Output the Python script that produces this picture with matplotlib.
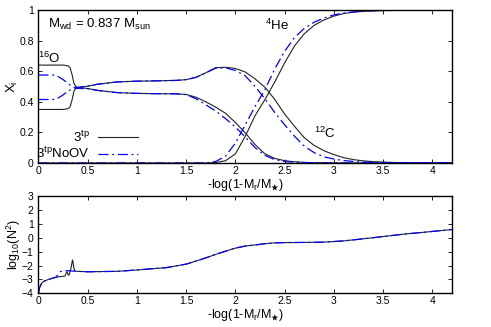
"""
Chemical profiles X_i and Brunt-Vaisala log10(N^2) vs -log(1-Mr/M*),
two models (3tp with overshoot, 3tp NoOV).
"""
import matplotlib
matplotlib.use("Agg")
import matplotlib.pyplot as plt

plt.rcParams.update({
    "font.family": "Liberation Sans",
    "mathtext.fontset": "custom",
    "mathtext.rm": "Liberation Sans",
    "mathtext.it": "Liberation Sans:italic",
    "mathtext.bf": "Liberation Sans:bold",
    "mathtext.default": "regular",
    "mathtext.fallback": "stixsans",
    "xtick.direction": "in",
    "ytick.direction": "in",
    "xtick.top": True,
    "ytick.right": True,
})

# ---- top panel: abundances ----
q = [0.0, 0.1, 0.15, 0.2, 0.25, 0.3, 0.32, 0.34, 0.36, 0.38, 0.4, 0.5, 0.6, 0.8,
     1.0, 1.2, 1.4, 1.5, 1.6, 1.7, 1.8, 1.9, 2.0, 2.1, 2.2, 2.3, 2.4, 2.5, 2.6,
     2.7, 2.8, 2.9, 3.0, 3.1, 3.2, 3.3, 3.4, 3.5, 3.7, 4.0, 4.2]

o16_3tp = [0.64, 0.64, 0.64, 0.64, 0.64, 0.635, 0.625, 0.58, 0.52, 0.50, 0.493, 0.487,
           0.475, 0.46, 0.455, 0.453, 0.452, 0.448, 0.43, 0.40, 0.365, 0.325, 0.265,
           0.197, 0.12, 0.06, 0.03, 0.015, 0.008, 0.004, 0.002, 0.001, 0.001, 0.0,
           0.0, 0.0, 0.0, 0.0, 0.0, 0.0, 0.0]
c12_3tp = [0.35, 0.35, 0.35, 0.35, 0.35, 0.355, 0.365, 0.41, 0.47, 0.487, 0.492, 0.502,
           0.515, 0.53, 0.535, 0.537, 0.54, 0.545, 0.56, 0.59, 0.623, 0.626, 0.618,
           0.595, 0.55, 0.495, 0.415, 0.32, 0.24, 0.165, 0.115, 0.08, 0.055, 0.035,
           0.022, 0.014, 0.009, 0.006, 0.002, 0.0005, 0.0]
he4_3tp = [0.0, 0.0, 0.0, 0.0, 0.0, 0.0, 0.0, 0.0, 0.0, 0.0, 0.0, 0.0, 0.0, 0.0,
           0.0, 0.0, 0.0, 0.0, 0.0, 0.0, 0.003, 0.015, 0.06, 0.175, 0.31, 0.415,
           0.53, 0.655, 0.765, 0.845, 0.9, 0.935, 0.96, 0.977, 0.986, 0.991, 0.994,
           0.996, 0.998, 0.999, 0.999]

o16_noov = [0.575, 0.575, 0.575, 0.565, 0.545, 0.52, 0.51, 0.50, 0.495, 0.49, 0.488,
            0.485, 0.474, 0.46, 0.455, 0.453, 0.452, 0.447, 0.42, 0.38, 0.34, 0.29,
            0.235, 0.17, 0.10, 0.05, 0.022, 0.01, 0.005, 0.003, 0.002, 0.001, 0.0,
            0.0, 0.0, 0.0, 0.0, 0.0, 0.0, 0.0, 0.0]
c12_noov = [0.415, 0.415, 0.415, 0.425, 0.445, 0.47, 0.477, 0.483, 0.488, 0.492, 0.495,
            0.503, 0.515, 0.53, 0.535, 0.537, 0.54, 0.545, 0.56, 0.59, 0.62, 0.622,
            0.605, 0.57, 0.50, 0.42, 0.33, 0.25, 0.175, 0.11, 0.068, 0.04, 0.026,
            0.016, 0.01, 0.006, 0.004, 0.002, 0.001, 0.0, 0.0]
he4_noov = [0.0, 0.0, 0.0, 0.0, 0.0, 0.0, 0.0, 0.0, 0.0, 0.0, 0.0, 0.0, 0.0, 0.0,
            0.0, 0.0, 0.0, 0.0, 0.0, 0.0, 0.01, 0.045, 0.13, 0.25, 0.37, 0.48,
            0.615, 0.73, 0.82, 0.88, 0.92, 0.948, 0.968, 0.98, 0.988, 0.993, 0.996,
            0.998, 0.999, 1.0, 1.0]

# ---- bottom panel: log10(N^2) ----
q_n2 = [0.0, 0.01, 0.03, 0.05, 0.1, 0.15, 0.18, 0.2, 0.22, 0.25, 0.27, 0.28, 0.29,
        0.30, 0.31, 0.32, 0.33, 0.34, 0.345, 0.35, 0.36, 0.37, 0.4, 0.5, 0.6, 0.8,
        1.0, 1.3, 1.5, 1.6, 1.7, 1.8, 1.9, 2.0, 2.1, 2.2, 2.3, 2.4, 2.5, 2.7, 2.9,
        3.1, 3.4, 3.7, 4.0, 4.2]
n2_3tp = [-4.0, -3.6, -3.3, -3.15, -3.0, -2.9, -2.85, -2.82, -2.8, -2.78, -2.75,
          -2.55, -2.45, -2.65, -2.7, -2.45, -2.2, -1.8, -1.6, -1.7, -2.2, -2.4,
          -2.42, -2.45, -2.44, -2.42, -2.32, -2.15, -1.9, -1.68, -1.45, -1.2, -0.97,
          -0.75, -0.6, -0.52, -0.43, -0.37, -0.35, -0.34, -0.32, -0.23, 0.0, 0.25,
          0.45, 0.59]
n2_noov = [-4.0, -3.6, -3.3, -3.15, -3.0, -2.9, -2.82, -2.65, -2.45, -2.38, -2.37,
           -2.37, -2.37, -2.38, -2.38, -2.38, -2.39, -2.39, -2.4, -2.4, -2.4, -2.41,
           -2.42, -2.45, -2.44, -2.42, -2.32, -2.15, -1.9, -1.68, -1.45, -1.2, -0.97,
           -0.75, -0.6, -0.52, -0.43, -0.37, -0.35, -0.34, -0.32, -0.23, 0.0, 0.25,
           0.45, 0.59]

x_ticks = [0, 0.5, 1, 1.5, 2, 2.5, 3, 3.5, 4]
x_ticklabels = ["0", "0.5", "1", "1.5", "2", "2.5", "3", "3.5", "4"]
top_yticks = [0, 0.2, 0.4, 0.6, 0.8, 1]
top_yticklabels = ["0", "0.2", "0.4", "0.6", "0.8", "1"]
bot_yticks = [-4, -3, -2, -1, 0, 1, 2, 3]

BLACK = "#222222"
BLUE = "#0000ff"
DASHDOT = (0, (8, 3, 1.5, 3))
XLABEL = r"-log(1-M$_r$/M$_{\bigstar}$)"
TXT = 9.5


def style_axes(ax):
    ax.set_xlim(0, 4.2)
    ax.set_xticks(x_ticks)
    ax.set_xticklabels(x_ticklabels)
    ax.tick_params(labelsize=7.5, length=3, width=0.6, pad=2)
    ax.tick_params(axis="y", pad=3.5)
    for sp in ax.spines.values():
        sp.set_linewidth(1.0)


fig = plt.figure(figsize=(4.91, 3.27), dpi=100)
ax1 = fig.add_axes([0.0784, 0.5015, 0.8422, 0.4679])
ax2 = fig.add_axes([0.0784, 0.1030, 0.8422, 0.2976])

# top panel
ax1.plot(q, o16_3tp, color=BLACK, lw=0.8, label="3$^{tp}$")
ax1.plot(q, c12_3tp, color=BLACK, lw=0.8)
ax1.plot(q, he4_3tp, color=BLACK, lw=0.8)
ax1.plot(q, o16_noov, color=BLUE, lw=0.9, ls=DASHDOT, label="3$^{tp}$NoOV")
ax1.plot(q, c12_noov, color=BLUE, lw=0.9, ls=DASHDOT)
ax1.plot(q, he4_noov, color=BLUE, lw=0.9, ls=DASHDOT)
style_axes(ax1)
ax1.set_ylim(0, 1)
ax1.set_yticks(top_yticks)
ax1.set_yticklabels(top_yticklabels)
ax1.set_xlabel(XLABEL, fontsize=9, labelpad=1)
ax1.set_ylabel("X$_i$", fontsize=9.5)
ax1.yaxis.set_label_coords(-0.045, 0.5)

ax1.text(0.1, 0.905, "M$_{wd}$ = 0.837 M$_{sun}$", fontsize=TXT, va="center")
ax1.text(-0.01, 0.655, "$^{16}$O", fontsize=TXT, va="baseline")
ax1.text(2.297, 0.869, "$^{4}$He", fontsize=TXT, va="baseline")
ax1.text(2.80, 0.164, "$^{12}$C", fontsize=TXT, va="baseline")

ax1.legend(loc="lower left", bbox_to_anchor=(-0.005, 0.01), markerfirst=False,
           frameon=False, fontsize=TXT, handlelength=3.0, handletextpad=0.6,
           labelspacing=0.12, borderpad=0, borderaxespad=0)

# bottom panel
ax2.plot(q_n2, n2_3tp, color=BLACK, lw=0.8)
ax2.plot(q_n2, n2_noov, color=BLUE, lw=0.9, ls=DASHDOT)
style_axes(ax2)
ax2.set_ylim(-4, 3)
ax2.set_yticks(bot_yticks)
ax2.set_xlabel(XLABEL, fontsize=9, labelpad=1)
ax2.set_ylabel("log$_{10}$(N$^2$)", fontsize=9)
ax2.yaxis.set_label_coords(-0.038, 0.5)

fig.savefig("out.png", dpi=100)
